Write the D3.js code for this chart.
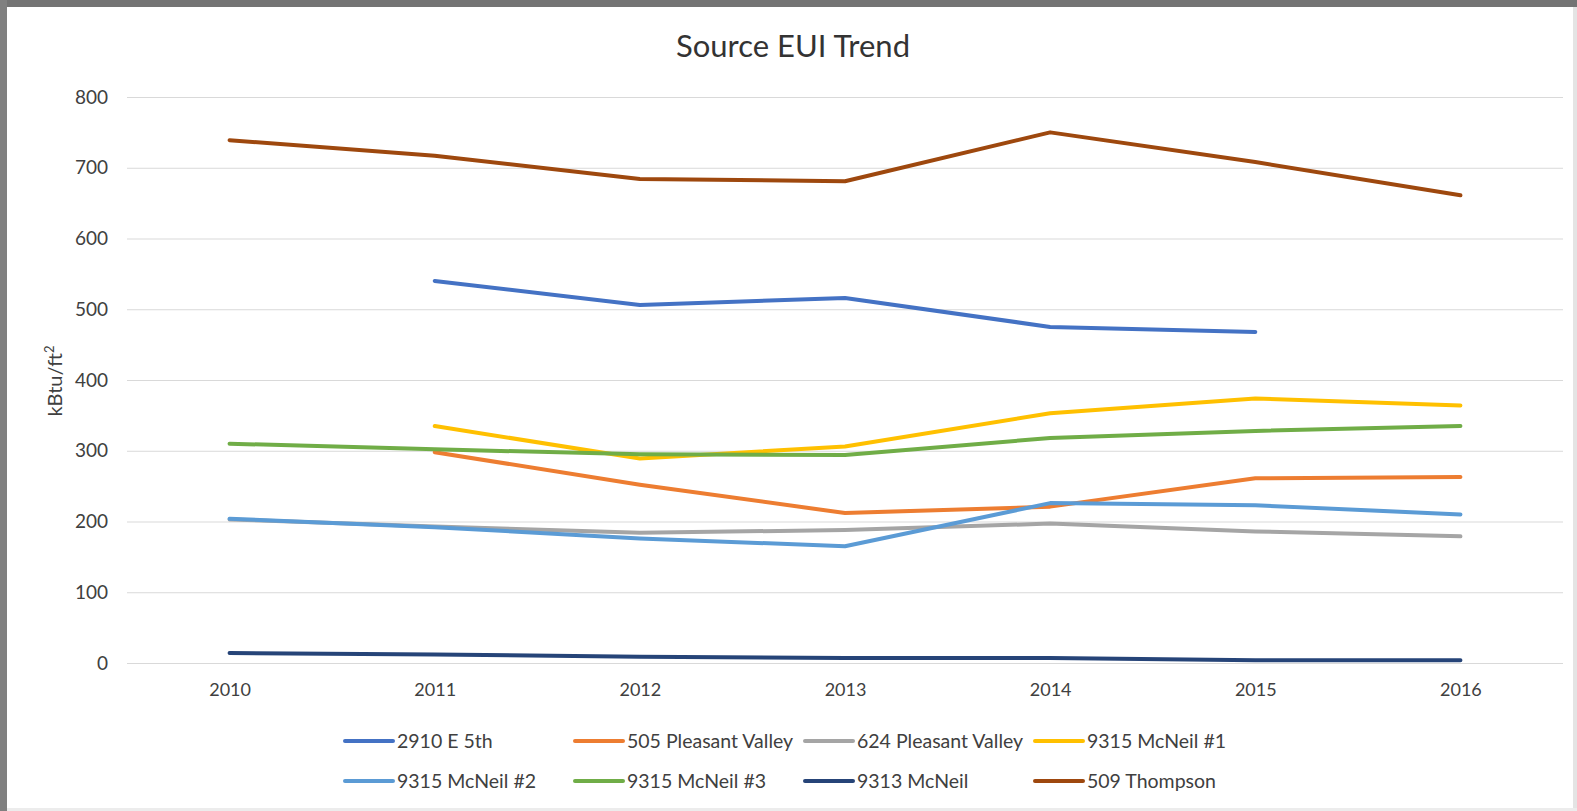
<!DOCTYPE html>
<html>
<head>
<meta charset="utf-8">
<script src="https://cdn.jsdelivr.net/npm/d3@7/dist/d3.min.js"></script>
<style>
  html, body { margin: 0; padding: 0; background: #ffffff; }
  svg { display: block; }
  text { font-family: Lato, "Open Sans", "Liberation Sans", sans-serif; }
</style>
</head>
<body>
<svg id="chart" width="1577" height="811"></svg>
<script>
const years = ["2010", "2011", "2012", "2013", "2014", "2015", "2016"];
const yTicks = [0, 100, 200, 300, 400, 500, 600, 700, 800];
const seriesNames = ["2910 E 5th", "505 Pleasant Valley", "624 Pleasant Valley", "9315 McNeil #1",
                     "9315 McNeil #2", "9315 McNeil #3", "9313 McNeil", "509 Thompson"];
const seriesColors = ["#4472C4", "#ED7D31", "#A5A5A5", "#FFC000", "#5B9BD5", "#70AD47", "#264478", "#9E480E"];

const e5th        = [null, 540, 506, 516, 475, 468, null];
const pleasant505 = [null, 298, 252, 212, 221, 261, 263];
const pleasant624 = [203, 193, 184, 188, 197, 186, 179];
const mcneil1     = [null, 335, 289, 306, 353, 374, 364];
const mcneil2     = [204, 192, 176, 165, 226, 223, 210];
const mcneil3     = [310, 302, 295, 294, 318, 328, 335];
const mcneil9313  = [14, 12, 9, 7, 7, 4, 4];
const thompson    = [739, 717, 684, 681, 750, 708, 661];

const seriesValues = [e5th, pleasant505, pleasant624, mcneil1, mcneil2, mcneil3, mcneil9313, thompson];

const svg = d3.select("#chart");

// frame
svg.append("rect").attr("x", 0).attr("y", 0).attr("width", 1577).attr("height", 811).attr("fill", "#ffffff");
svg.append("rect").attr("x", 0).attr("y", 0).attr("width", 1577).attr("height", 7).attr("fill", "#747474");
svg.append("rect").attr("x", 0).attr("y", 0).attr("width", 7).attr("height", 811).attr("fill", "#808080");
svg.append("rect").attr("x", 1573).attr("y", 7).attr("width", 4).attr("height", 804).attr("fill", "#e4e4e4");
svg.append("rect").attr("x", 7).attr("y", 808).attr("width", 1570).attr("height", 3).attr("fill", "#ececec");

const x = d3.scalePoint().domain(years).range([127, 1563]).padding(0.5);
const y = d3.scaleLinear().domain([0, 800]).range([663, 97]);

// gridlines
const yAxis = d3.axisLeft(y).tickValues(yTicks).tickSize(-(1563 - 127)).tickPadding(19).tickFormat(d3.format("d"));
const gy = svg.append("g").attr("transform", "translate(127,0)").call(yAxis);
gy.select(".domain").remove();
gy.selectAll(".tick line").attr("stroke", "#d9d9d9").attr("stroke-width", 1.2);
gy.selectAll(".tick text").attr("fill", "#404040").style("font-size", "19px");

const xAxis = d3.axisBottom(x).tickSize(0).tickPadding(20);
const gx = svg.append("g").attr("transform", "translate(0,663)").call(xAxis);
gx.select(".domain").remove();
gx.selectAll(".tick text").attr("fill", "#404040").style("font-size", "18px");

// lines
const line = d3.line()
  .defined(d => d.v !== null)
  .x(d => x(d.year))
  .y(d => y(d.v));

seriesNames.forEach((name, i) => {
  const data = years.map((yr, j) => ({ year: yr, v: seriesValues[i][j] }));
  svg.append("path")
    .datum(data)
    .attr("fill", "none")
    .attr("stroke", seriesColors[i])
    .attr("stroke-width", 4)
    .attr("stroke-linecap", "round")
    .attr("stroke-linejoin", "round")
    .attr("d", line);
});

// title
svg.append("text")
  .attr("x", 793).attr("y", 57)
  .attr("text-anchor", "middle")
  .attr("fill", "#333333")
  .style("font-size", "31px")
  .text("Source EUI Trend");

// y label
svg.append("text")
  .attr("transform", "translate(62,381) rotate(-90)")
  .attr("text-anchor", "middle")
  .attr("fill", "#404040")
  .style("font-size", "20px")
  .html('kBtu/ft<tspan dy="-8" font-size="13px">2</tspan>');

// legend
const legend = svg.append("g");
seriesNames.forEach((name, i) => {
  const col = i % 4, row = Math.floor(i / 4);
  const lx = 345 + col * 230, ly = 741 + row * 40;
  const g = legend.append("g").attr("transform", `translate(${lx},${ly})`);
  g.append("line").attr("x1", 0).attr("x2", 48).attr("y1", 0).attr("y2", 0)
    .attr("stroke", seriesColors[i]).attr("stroke-width", 4).attr("stroke-linecap", "round");
  g.append("text").attr("x", 52).attr("y", 7)
    .attr("fill", "#404040").style("font-size", "19.5px").text(name);
});
</script>
</body>
</html>
